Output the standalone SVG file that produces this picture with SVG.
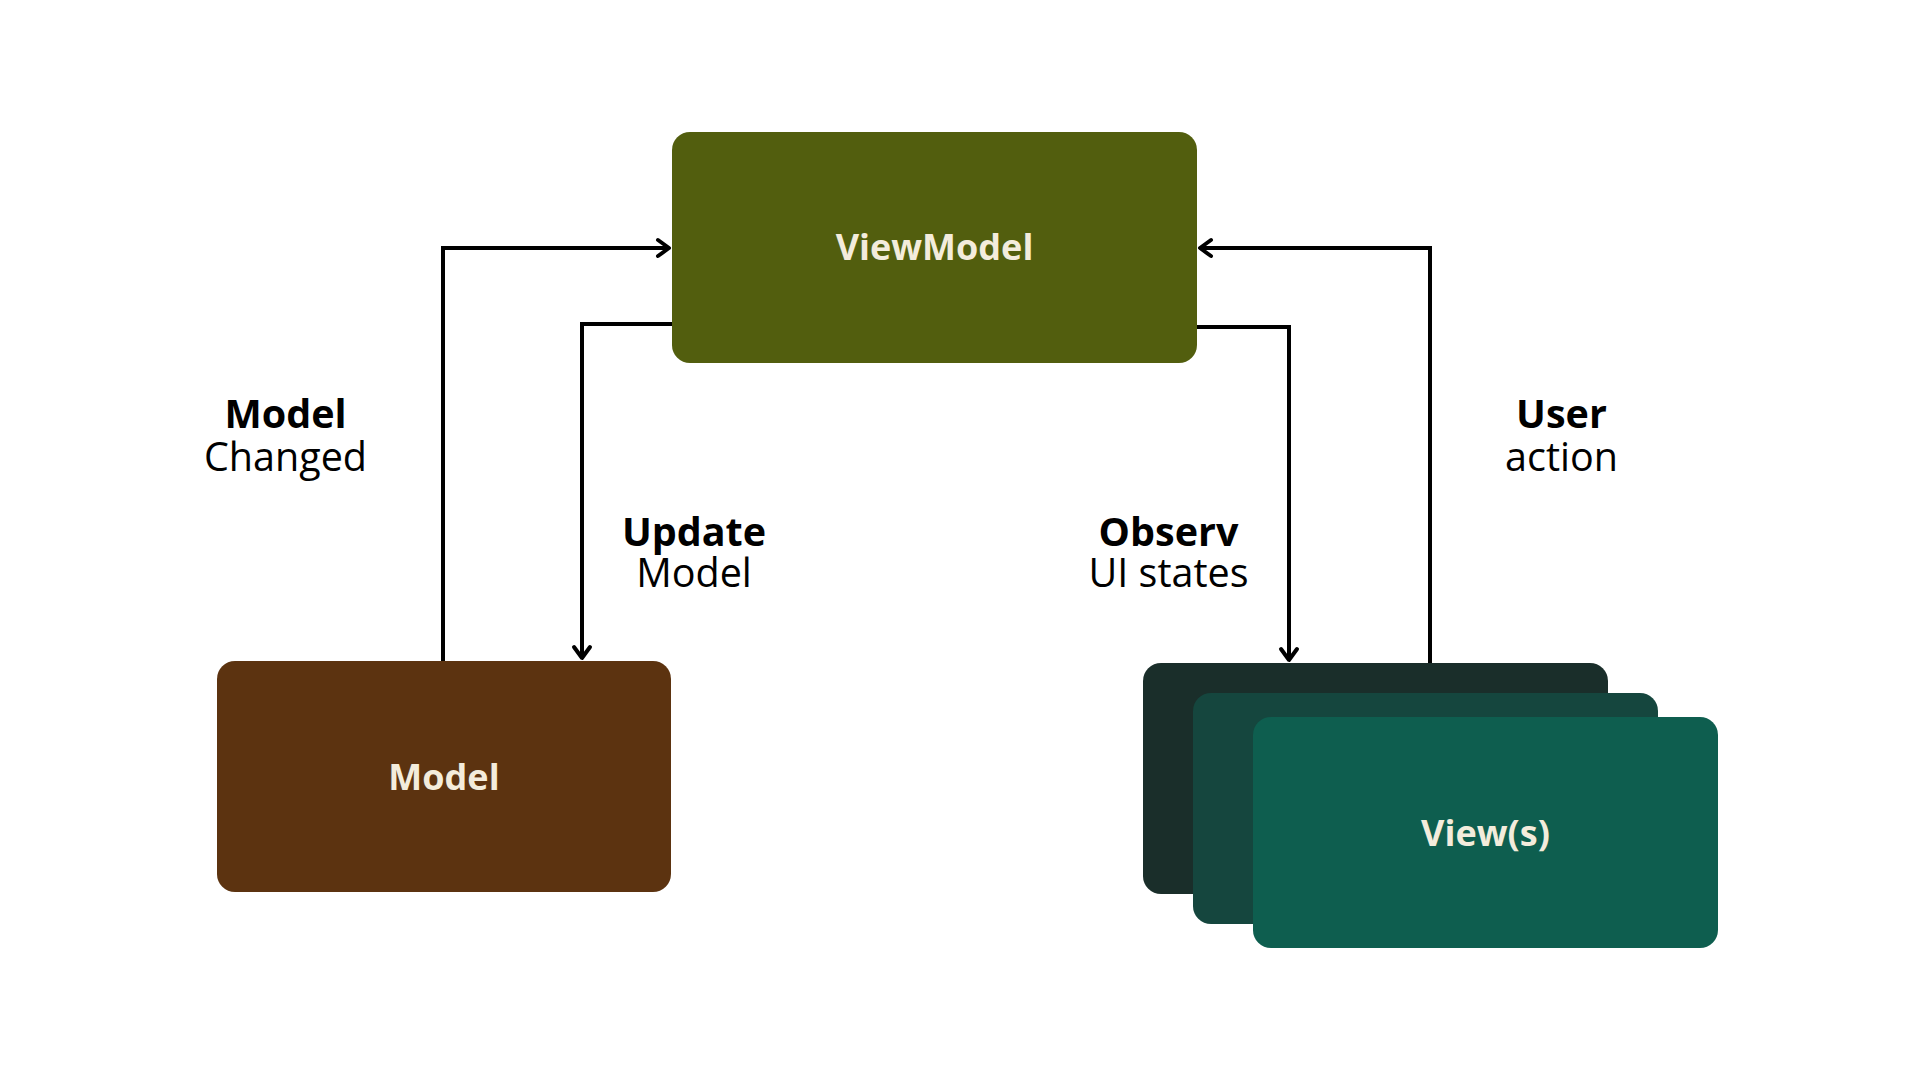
<svg xmlns="http://www.w3.org/2000/svg" width="1920" height="1080" viewBox="0 0 1920 1080">
<style>
.box-text{font-family:"Open Sans","Noto Sans","DejaVu Sans",sans-serif;font-weight:700;font-size:36px;fill:#f3ecdc;text-anchor:middle}
.lbl{font-family:"Open Sans","Noto Sans","DejaVu Sans",sans-serif;font-size:39.5px;fill:#000;text-anchor:middle}
.b{font-weight:700}
.conn{fill:none;stroke:#000;stroke-width:4}
</style>
<defs>
<marker id="arr" markerUnits="userSpaceOnUse" markerWidth="30" markerHeight="30" viewBox="-20 -15 30 30" refX="0" refY="0" orient="auto">
<path d="M-11,-8 L0,0 L-11,8" fill="none" stroke="#000" stroke-width="4" stroke-linecap="round" stroke-linejoin="round"/>
</marker>
</defs>
<rect width="1920" height="1080" fill="#fff"/>
<g id="connectors">
<path class="conn" d="M443,661 V248 H669" marker-end="url(#arr)"/>
<path class="conn" d="M672,324 H582 V658" marker-end="url(#arr)"/>
<path class="conn" d="M1197,327 H1289 V660" marker-end="url(#arr)"/>
<path class="conn" d="M1430,663 V248 H1200" marker-end="url(#arr)"/>
</g>
<g id="viewmodel">
<rect x="672" y="132" width="525" height="231" rx="18" fill="#525e0e"/>
<text class="box-text" x="934.5" y="260">ViewModel</text>
</g>
<g id="model">
<rect x="217" y="661" width="454" height="231" rx="18" fill="#5c3310"/>
<text class="box-text" x="444" y="790">Model</text>
</g>
<g id="views">
<rect x="1143" y="663" width="465" height="231" rx="18" fill="#1a2e2a"/>
<rect x="1193" y="693" width="465" height="231" rx="18" fill="#15463e"/>
<rect x="1253" y="717" width="465" height="231" rx="18" fill="#0e5e4f"/>
<text class="box-text" x="1485.5" y="846">View(s)</text>
</g>
<g id="labels">
<text class="lbl" x="285.5" y="428"><tspan class="b">Model</tspan><tspan x="285.5" dy="43">Changed</tspan></text>
<text class="lbl" x="694" y="546"><tspan class="b">Update</tspan><tspan x="694" dy="41">Model</tspan></text>
<text class="lbl" x="1168.5" y="546"><tspan class="b">Observ</tspan><tspan x="1168.5" dy="41">UI states</tspan></text>
<text class="lbl" x="1561.5" y="428"><tspan class="b">User</tspan><tspan x="1561.5" dy="43">action</tspan></text>
</g>
</svg>
